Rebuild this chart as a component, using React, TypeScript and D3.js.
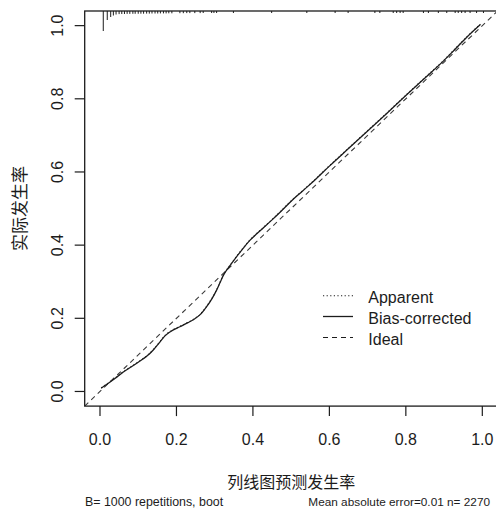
import React from "react";
import * as d3 from "d3";

const W = 496;
const H = 512;

const xTicks = [0, 0.2, 0.4, 0.6, 0.8, 1.0];
const yTicks = [0, 0.2, 0.4, 0.6, 0.8, 1.0];
const tickLabels = ["0.0", "0.2", "0.4", "0.6", "0.8", "1.0"];

// calibration curve: predicted (x) vs actual (y)
const predicted = [0.003, 0.02, 0.04, 0.061, 0.08, 0.1, 0.122, 0.14, 0.155, 0.17, 0.185, 0.209, 0.23, 0.244, 0.262, 0.279, 0.293, 0.305, 0.315, 0.323, 0.34, 0.357, 0.375, 0.392, 0.41, 0.427, 0.45, 0.471, 0.5, 0.53, 0.56, 0.6, 0.65, 0.7, 0.75, 0.8, 0.85, 0.9, 0.93, 0.96, 0.995];
const biasCorrected = [0.009, 0.021, 0.036, 0.053, 0.066, 0.08, 0.096, 0.114, 0.133, 0.152, 0.164, 0.177, 0.188, 0.196, 0.21, 0.232, 0.254, 0.277, 0.3, 0.318, 0.344, 0.368, 0.392, 0.413, 0.431, 0.447, 0.469, 0.49, 0.52, 0.548, 0.576, 0.616, 0.664, 0.712, 0.76, 0.809, 0.857, 0.905, 0.937, 0.969, 1.003];
const apparent = [0.01, 0.022, 0.037, 0.054, 0.067, 0.081, 0.097, 0.115, 0.134, 0.153, 0.165, 0.178, 0.189, 0.197, 0.211, 0.233, 0.255, 0.278, 0.301, 0.319, 0.345, 0.369, 0.393, 0.414, 0.432, 0.448, 0.47, 0.491, 0.521, 0.549, 0.577, 0.617, 0.665, 0.713, 0.761, 0.81, 0.858, 0.906, 0.938, 0.97, 1.004];

// rug of predicted values at top (value, frequency)
const rugX = [0.0086, 0.019, 0.028, 0.035, 0.042, 0.05, 0.057, 0.064, 0.071, 0.078, 0.086, 0.092, 0.1, 0.107, 0.114, 0.122, 0.129, 0.136, 0.144, 0.151, 0.158, 0.166, 0.173, 0.18, 0.188, 0.209, 0.218, 0.227, 0.235, 0.248, 0.262, 0.27, 0.292, 0.298, 0.305, 0.349, 0.449, 0.541, 0.615, 0.649, 0.719, 0.732, 0.767, 0.776, 0.785, 0.793, 0.846, 0.859, 0.885, 0.907, 0.929, 0.937, 0.946, 0.955, 0.968, 0.985, 1.003];
const rugFreq = [400, 180, 120, 90, 70, 62, 60, 60, 58, 58, 56, 56, 55, 54, 54, 52, 52, 50, 50, 50, 48, 48, 48, 46, 46, 44, 44, 42, 42, 42, 42, 40, 40, 40, 40, 40, 40, 40, 40, 40, 40, 40, 40, 40, 40, 40, 40, 40, 40, 40, 40, 40, 40, 40, 40, 40, 40];

const legendLabels = ["Apparent", "Bias-corrected", "Ideal"];
const xTitle = "列线图预测发生率";
const yTitle = "实际发生率";
const noteLeft = "B= 1000 repetitions, boot";
const noteRight = "Mean absolute error=0.01 n= 2270";

const INK = "#1c1c1c";
const FONT = "'Liberation Sans', Arial, sans-serif";
const CJK = "'Noto Sans CJK SC', sans-serif";

export default function App() {
  const x = d3.scaleLinear().domain([-0.04, 1.04]).range([84.7, 497.6]);
  const y = d3.scaleLinear().domain([-0.04, 1.04]).range([406.1, 11]);
  const rugLen = d3.scaleLinear().domain([0, d3.max(rugFreq) as number]).range([0, 20]);

  const line = d3
    .line<[number, number]>()
    .x((d) => x(d[0]))
    .y((d) => y(d[1]))
    .curve(d3.curveMonotoneX);

  const biasPts = predicted.map((p, i) => [p, biasCorrected[i]] as [number, number]);
  const appPts = predicted.map((p, i) => [p, apparent[i]] as [number, number]);

  const [x0, x1] = x.range();
  const [y0, y1] = y.range();

  const legendStyles = [
    { dash: "1.2,2.4", w: 1.1 },
    { dash: "none", w: 1.3 },
    { dash: "5,4", w: 1.1 },
  ];
  const legendBase = [303.3, 324, 345];

  return (
    <svg
      width={W}
      height={H}
      style={{ position: "absolute", left: 0, top: 0, background: "#fff" }}
    >
      <defs>
        <clipPath id="plotClip">
          <rect x={x0} y={y1} width={x1 - x0} height={y0 - y1} />
        </clipPath>
      </defs>
      <rect x={0} y={0} width={W} height={H} fill="#fff" />

      <g clipPath="url(#plotClip)">
        <line
          x1={x(-0.04)}
          y1={y(-0.04)}
          x2={x(1.04)}
          y2={y(1.04)}
          stroke="#3a3a3a"
          strokeWidth={1.1}
          strokeDasharray="5,4"
        />
        <path d={line(appPts) || ""} fill="none" stroke={INK} strokeWidth={1.1} strokeDasharray="1.2,2.4" />
        <path d={line(biasPts) || ""} fill="none" stroke={INK} strokeWidth={1.3} />
        {rugX.map((v, i) => (
          <line
            key={i}
            x1={x(v)}
            x2={x(v)}
            y1={y1}
            y2={y1 + rugLen(rugFreq[i])}
            stroke={INK}
            strokeWidth={1}
          />
        ))}
      </g>

      <rect x={x0} y={y1} width={x1 - x0} height={y0 - y1} fill="none" stroke={INK} strokeWidth={1.3} />

      {xTicks.map((t, i) => (
        <g key={"xt" + i}>
          <line x1={x(t)} x2={x(t)} y1={y0} y2={y0 + 10} stroke={INK} strokeWidth={1.2} />
          <text x={x(t)} y={445} textAnchor="middle" fontFamily={FONT} fontSize={16} fill={INK}>
            {tickLabels[i]}
          </text>
        </g>
      ))}

      {yTicks.map((t, i) => (
        <g key={"yt" + i}>
          <line x1={x0 - 10} x2={x0} y1={y(t)} y2={y(t)} stroke={INK} strokeWidth={1.2} />
          <text
            transform={`translate(63,${y(t)}) rotate(-90)`}
            textAnchor="middle"
            fontFamily={FONT}
            fontSize={16}
            fill={INK}
          >
            {tickLabels[i]}
          </text>
        </g>
      ))}

      <text
        x={(x0 + x1) / 2}
        y={481}
        textAnchor="middle"
        dominantBaseline="central"
        fontFamily={CJK}
        fontSize={16}
        fill={INK}
      >
        {xTitle}
      </text>
      <text
        transform={`translate(18.5,${(y0 + y1) / 2}) rotate(-90)`}
        textAnchor="middle"
        dominantBaseline="central"
        fontFamily={CJK}
        fontSize={17}
        fill={INK}
      >
        {yTitle}
      </text>

      <text x={85} y={506} fontFamily={FONT} fontSize={12.4} fill={INK}>
        {noteLeft}
      </text>
      <text x={490} y={506} textAnchor="end" fontFamily={FONT} fontSize={11.8} fill={INK}>
        {noteRight}
      </text>

      {legendLabels.map((lab, i) => (
        <g key={"lg" + i}>
          <line
            x1={323}
            x2={353}
            y1={legendBase[i] - 7.5}
            y2={legendBase[i] - 7.5}
            stroke={INK}
            strokeWidth={legendStyles[i].w}
            strokeDasharray={legendStyles[i].dash}
          />
          <text x={368.3} y={legendBase[i]} fontFamily={FONT} fontSize={16} fill={INK}>
            {lab}
          </text>
        </g>
      ))}
    </svg>
  );
}
